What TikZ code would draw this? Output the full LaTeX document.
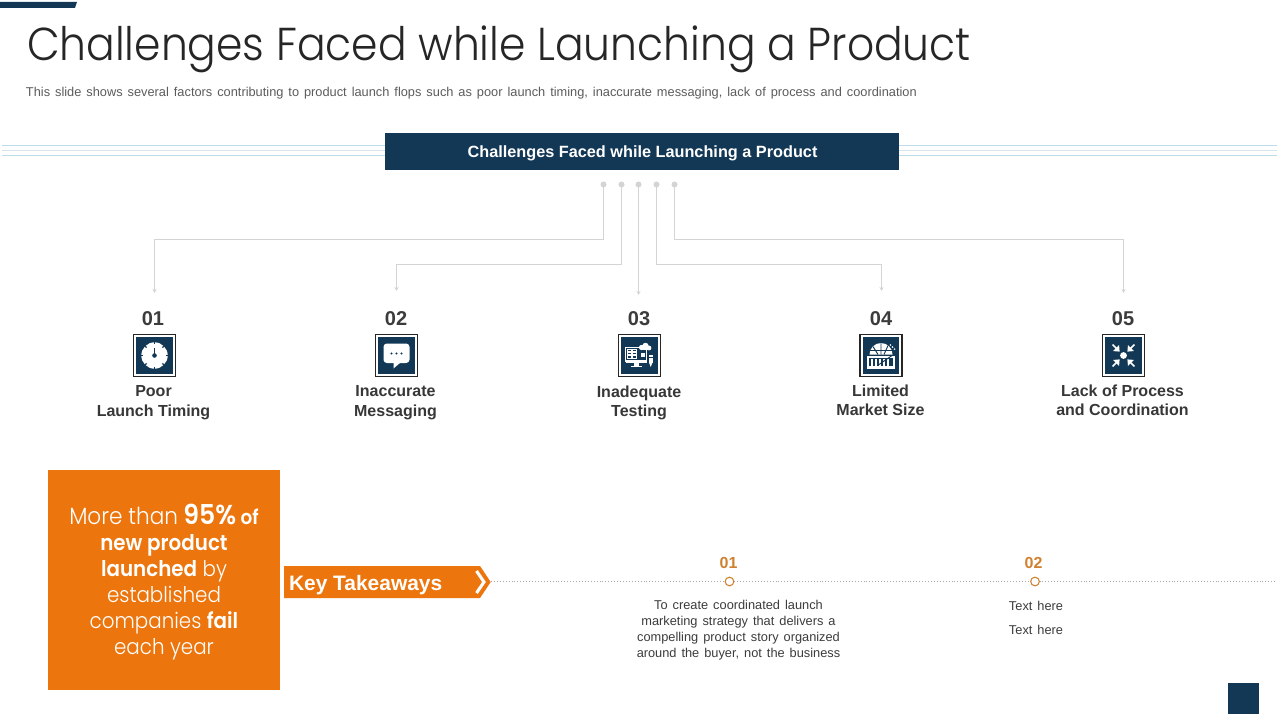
\documentclass[tikz,border=0pt]{standalone}
\usepackage{fontspec}
\setmainfont{Liberation Sans}
\newfontfamily\gothic[FakeStretch=0.92]{Poppins Light}
\newfontfamily\gothicb[FakeStretch=0.92]{Poppins SemiBold}
\newfontfamily\robo[WordSpace=1.4]{Liberation Sans}
\usetikzlibrary{arrows.meta}
\definecolor{navy}{HTML}{133855}
\definecolor{orange1}{HTML}{EC760D}
\definecolor{orange2}{HTML}{D0812F}
\definecolor{ink}{HTML}{262626}
\definecolor{grayline}{HTML}{D4D4D4}
\definecolor{rulea}{HTML}{BBDCE8}
\definecolor{ruleb}{HTML}{D8E4E8}
\tikzset{
 x=0.75pt,y=-0.75pt,
 plain/.style={inner sep=0pt,outer sep=0pt},
 conn/.style={grayline,line width=0.8pt,-{Stealth[length=3pt,width=3pt]}},
 dotn/.style={circle,fill=grayline,minimum size=4.5pt,inner sep=0pt,outer sep=0pt},
 numl/.style={plain,font=\bfseries\fontsize{15}{15}\selectfont,text=ink!90},
 capl/.style={plain,align=center,font=\bfseries\fontsize{12}{14.3}\selectfont,text=ink!92},
 frame/.style={draw=ink,line width=0.8pt,fill=white,minimum size=31.5pt,inner sep=0pt},
 inner/.style={fill=navy,minimum size=27.5pt,inner sep=0pt},
 body/.style={plain,align=center,text=ink!90},
 onum/.style={plain,font=\bfseries\fontsize{12}{12}\selectfont,text=orange2},
 ring/.style={circle,draw=orange2,fill=white,line width=0.8pt,minimum size=6.5pt,inner sep=0pt},
}
\begin{document}
\begin{tikzpicture}
\useasboundingbox (0,0) rectangle (1280,720);
\fill[white] (0,0) rectangle (1280,720);
% top bar
\fill[navy] (0,2) -- (77,2) -- (75,8) -- (0,8) -- cycle;
\node[plain,anchor=base west,text=ink,font=\gothic\fontsize{34.6}{36}\selectfont] (title) at (27,61) {Challenges Faced while Launching a Product};
\node[plain,anchor=base west,text=ink!75,font=\robo\fontsize{9.6}{11}\selectfont] (sub) at (26,97) {This slide shows several factors contributing to product launch flops such as poor launch timing, inaccurate messaging, lack of process and coordination};
% rules
\foreach \yy/\cc in {145.5/rulea,150.5/ruleb,155.5/rulea}{
 \draw[\cc,line width=0.8pt] (2,\yy) -- (385,\yy);
 \draw[\cc,line width=0.8pt] (899,\yy) -- (1277,\yy);
}
\node[fill=navy,minimum width=385.5pt,minimum height=27.75pt,inner sep=0pt,outer sep=0pt] (head) at (642,151.5) {};
\node[plain,anchor=base,text=white,font=\bfseries\fontsize{12.2}{14}\selectfont] (headt) at (642.5,158) {Challenges Faced while Launching a Product};
% dots
\node[dotn] (d1) at (603.5,184.5) {};
\node[dotn] (d2) at (621.5,184.5) {};
\node[dotn] (d3) at (638.5,184.5) {};
\node[dotn] (d4) at (656.5,184.5) {};
\node[dotn] (d5) at (674.5,184.5) {};
% numbers
\node[numl] (n1) at (153,318.5) {01};
\node[numl] (n2) at (396,318.5) {02};
\node[numl] (n3) at (639,318.5) {03};
\node[numl] (n4) at (881,318.5) {04};
\node[numl] (n5) at (1123,318.5) {05};
% connector ends
\coordinate (e1) at (154.5,293);
\coordinate (e2) at (396.5,291);
\coordinate (e3) at (638.5,295);
\coordinate (e4) at (881.5,291);
\coordinate (e5) at (1123.5,293);
\draw[conn] (d1) -- (603.5,239.5) -| (e1);
\draw[conn] (d2) -- (621.5,264.5) -| (e2);
\draw[conn] (d3) -- (e3);
\draw[conn] (d4) -- (656.5,264.5) -| (e4);
\draw[conn] (d5) -- (674.5,239.5) -| (e5);
% icon frames
\foreach \nm/\xx in {1/154.5,2/396.5,3/639.5,4/881,5/1123.5}{
 \node[frame] (f\nm) at (\xx,355.5) {};
 \node[inner] (g\nm) at (\xx,355.5) {};
}
% clock
\begin{scope}[shift={(154.5,355.5)}]
 \fill[white] (0,0) circle (13.2);
 \foreach \a in {0,45,...,315} \draw[navy,line width=1pt] (\a:14) -- (\a:11.2);
 \draw[navy,line width=1.2pt] (0,0) -- (0,-8);
 \fill[navy] (0,0) circle (2.3);
\end{scope}
% bubble
\begin{scope}[shift={(396.5,355.5)}]
 \fill[white,rounded corners=2.5pt] (-13,-12) rectangle (13,7.5);
 \fill[white] (-3,7) -- (-3,13) -- (4,7) -- cycle;
 \foreach \xx in {-5,0,5} \fill[navy] (\xx,-2) circle (1.2);
\end{scope}
% monitor
\begin{scope}[shift={(639.5,355.5)}]
 \draw[white,line width=0.7pt] (-14,-8) rectangle (7,6);
 \fill[white] (-14,4) rectangle (7,7);
 \fill[white] (-6,7) rectangle (-1,10);
 \fill[white] (-9,10) rectangle (2,11.3);
 \foreach \i in {0,1,2} \foreach \j in {0,1}{
   \draw[white,line width=0.5pt] ({-12.5+\j*5.5},{-6.5+\i*3.4}) rectangle ({-8.5+\j*5.5},{-4.3+\i*3.4});
 }
 \fill[white] (1,-3) rectangle (5,1);
 \fill[white] (2,-8) circle (2.6) (6,-9.5) circle (3.2) (9.5,-7.5) circle (2.4);
 \fill[white] (2,-8.5) rectangle (10,-5.2);
 \fill[white] (9.5,-1) rectangle (13,7);
 \fill[white] (9.5,7) -- (13,7) -- (11.2,11.5) -- cycle;
 \draw[navy,line width=0.5pt] (9.5,1.5) -- (13,1.5);
\end{scope}
% globe/chart
\begin{scope}[shift={(881,355.5)}]
 \fill[white] (-11.5,-1) arc (180:360:11.5) -- cycle;
 \draw[navy,line width=0.7pt] (0,-12.5) -- (0,-1) (-8,-9) -- (-3,-1) (7,-10) -- (3,-1) (-11.5,-5) -- (11.5,-5);
 \draw[white,line width=1pt,dash pattern=on 1pt off 1.2pt] (9,-11) -- (14,-6);
 \fill[white] (-14,0) rectangle (14,2.5);
 \draw[white,line width=0.9pt] (-13,2) rectangle (13,11);
 \fill[white] (-14,11) rectangle (14,13);
 \foreach \xx in {-9,-5,-1,3,7}{\draw[white,line width=0.9pt] (\xx,3) -- (\xx,11);}
 \draw[navy,line width=0.7pt] (-2,9) -- (11,0);
\end{scope}
% converge
\begin{scope}[shift={(1123.5,355.5)}]
 \fill[white] (0,0) circle (3.4);
 \foreach \a in {45,135,225,315}{
  \begin{scope}[rotate=\a]
   \draw[white,line width=1.3pt] (15.5,0) -- (7,0);
   \fill[white] (5.5,0) -- (10.5,-4.2) -- (10.5,4.2) -- cycle;
  \end{scope}
 }
\end{scope}
% captions
\node[capl] (c1) at (153.5,402.7) {Poor\\Launch Timing};
\node[capl] (c2) at (395.5,402.7) {Inaccurate\\Messaging};
\node[capl] (c3) at (639,402.7) {Inadequate\\Testing};
\node[capl] (c4) at (880.5,400.7) {Limited\\Market Size};
\node[capl] (c5) at (1122.5,400.7) {Lack of Process\\and Coordination};
% orange box
\fill[orange1] (48,470) rectangle (280,690);
\node[plain,align=center,text=white,font=\gothic\fontsize{16.2}{19.5}\selectfont] (big) at (164,582) {{\fontsize{17.6}{19.5}\selectfont More than} {\gothicb\fontsize{20.5}{19.5}\selectfont 95\%}{\gothicb\fontsize{15}{19.5}\selectfont{} of}\\{\gothicb new product}\\{\gothicb launched} by\\established\\companies {\gothicb fail}\\each year};
% key takeaways
\fill[orange1] (284,566) -- (480,566) -- (490.7,582) -- (480,598) -- (284,598) -- cycle;
\draw[white,line width=2.3pt] (476.5,571) -- (484,582) -- (476.5,593);
\node[plain,anchor=base west,text=white,font=\bfseries\fontsize{15.7}{16}\selectfont] (key) at (289,590) {Key Takeaways};
\coordinate (tip) at (491,581.5);
\coordinate (lineend) at (1277,581.5);
\draw[ink!40,line width=0.75pt,dash pattern=on 0.6pt off 1.6pt] (tip) -- (lineend);
\node[ring] (r1) at (729.5,581.5) {};
\node[ring] (r2) at (1035,581.5) {};
\node[onum] (o1) at (728.5,563) {01};
\node[onum] (o2) at (1033.5,563) {02};
\node[body,font=\robo\fontsize{9.6}{12}\selectfont] (t1) at (738.5,630.5) {To create coordinated launch\\marketing strategy that delivers a\\compelling product story organized\\around the buyer, not the business};
\node[body,font=\robo\fontsize{9.6}{18}\selectfont] (t2) at (1036,617.5) {Text here\\Text here};
% corner
\fill[navy] (1228,683) rectangle (1259,714);
\end{tikzpicture}
\end{document}
